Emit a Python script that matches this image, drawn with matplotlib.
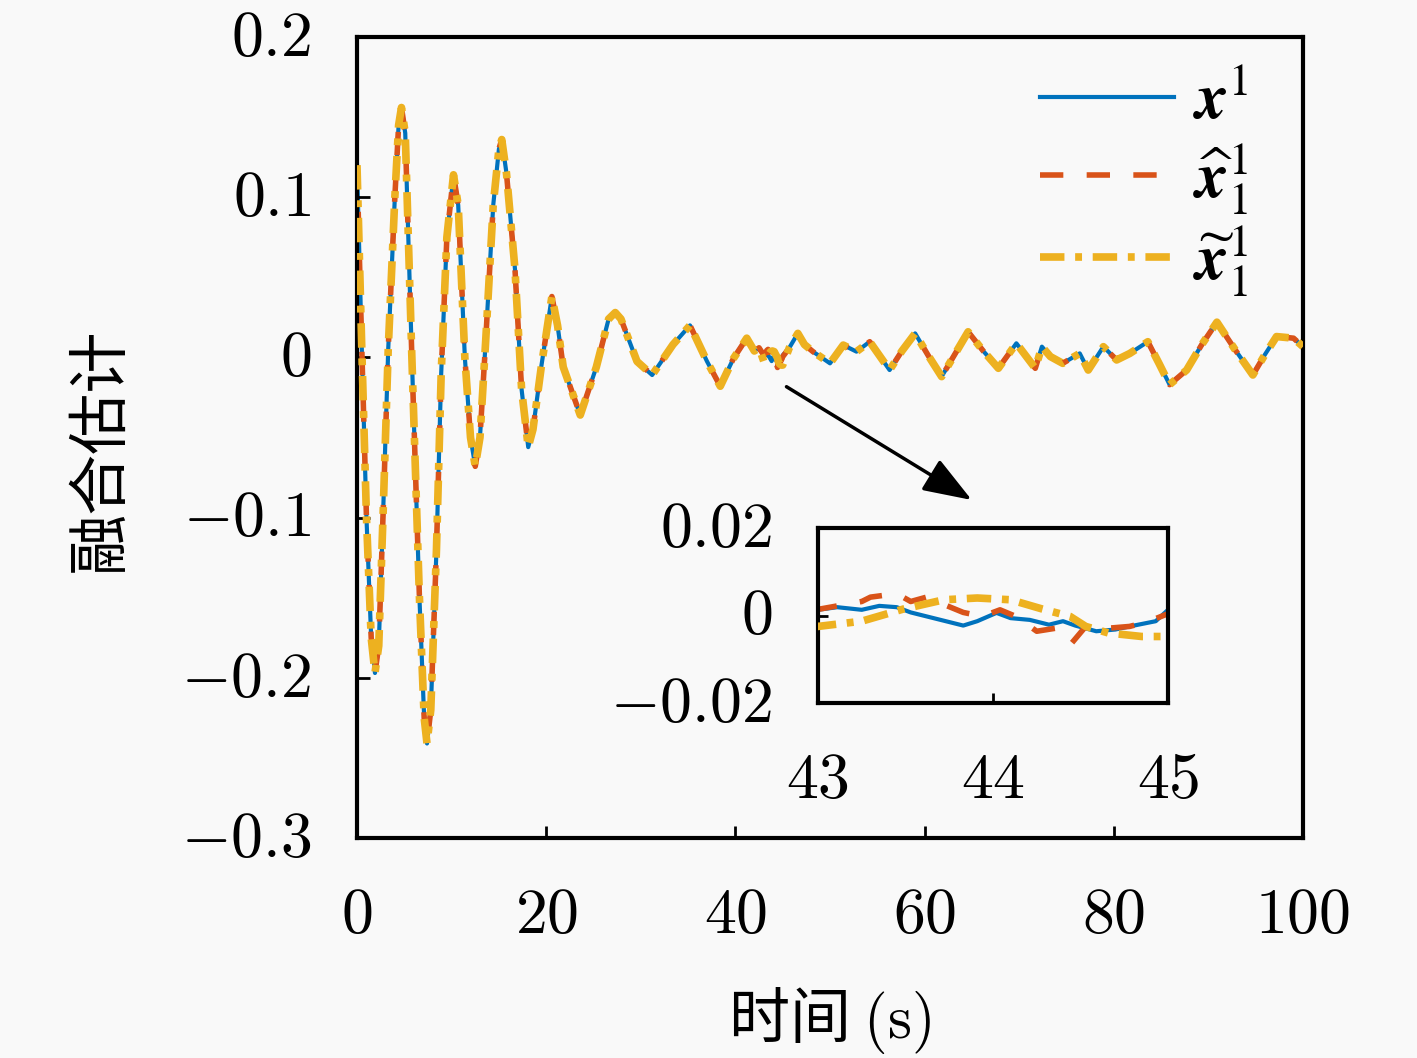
import numpy as np
import matplotlib
matplotlib.use("Agg")
import matplotlib.pyplot as plt
from matplotlib.lines import Line2D
from matplotlib.transforms import ScaledTranslation

plt.rcParams['mathtext.fontset'] = 'cm'
plt.rcParams['font.family'] = ['Noto Sans CJK SC', 'DejaVu Sans']

# shared part of the three curves (outside the zoomed window)
t_before = [0, 0.5, 1.0, 1.5, 1.9, 2.3, 2.8, 3.3, 4.0, 4.4, 4.7, 5.1, 5.8, 6.6, 7.1, 7.4, 7.8,
            8.4, 8.9, 9.5, 10.2, 10.7, 11.4, 12.0, 12.5, 13.0, 13.6, 14.4, 15.0, 15.3, 15.8,
            16.7, 17.4, 18.1, 18.6, 19.5, 20.6, 21.2, 21.8, 23.6, 25.3, 26.6, 27.3, 27.9,
            29.6, 31.2, 33.4, 35.2, 37.0, 38.4, 39.8, 41.2, 42.0, 42.5]
v_before = [0.120, 0.007, -0.100, -0.175, -0.197, -0.180, -0.090, 0.005, 0.100, 0.145, 0.156,
            0.140, 0.000, -0.150, -0.225, -0.241, -0.220, -0.120, -0.010, 0.075, 0.114, 0.095,
            0.000, -0.050, -0.068, -0.050, 0.010, 0.095, 0.130, 0.136, 0.115, 0.055, -0.020,
            -0.056, -0.045, -0.005, 0.038, 0.020, -0.006, -0.036, -0.006, 0.024, 0.028, 0.024,
            -0.0025, -0.011, 0.008, 0.020, -0.0025, -0.018, -0.0006, 0.012, 0.004, 0.006]

t_after = [45.7, 46.6, 47.3, 48.2, 50.0, 51.4, 52.8, 54.2, 56.3, 57.6, 59.0, 60.4, 61.8, 63.2,
           64.6, 66.2, 67.8, 69.7, 71.7, 72.4, 73.3, 74.6, 76.4, 77.3, 78.9, 80.3, 81.7, 83.6,
           84.8, 85.9, 87.7, 89.3, 90.9, 92.8, 94.7, 96.0, 97.2, 99.0, 100.0]
v_after = [0.006, 0.015, 0.008, 0.0036, -0.0037, 0.0077, 0.0036, 0.0098, -0.0079, 0.004, 0.015,
           0.001, -0.012, 0.002, 0.016, 0.004, -0.0068, 0.0088, -0.0068, 0.0067, 0.0005,
           -0.0037, 0.0025, -0.0079, 0.0067, -0.0016, 0.0025, 0.0098, -0.004, -0.017, -0.0079,
           0.008, 0.022, 0.005, -0.011, 0.002, 0.013, 0.012, 0.0067]

# zoomed window 43..45 s
t_x = [43.0, 43.11, 43.25, 43.35, 43.45, 43.53, 43.68, 43.83, 43.91, 44.02, 44.10, 44.21,
       44.32, 44.40, 44.47, 44.59, 44.70, 44.78, 44.93, 45.0]
v_x = [0.0013, 0.0019, 0.0013, 0.0022, 0.0019, 0.0007, -0.0008, -0.0023, -0.0013, 0.0006,
       -0.0006, -0.0010, -0.0021, -0.0013, -0.0023, -0.0036, -0.0032, -0.0025, -0.0013, 0.0013]
t_xhat = [43.0, 43.25, 43.30, 43.45, 43.53, 43.62, 43.72, 43.83, 43.94, 44.04, 44.13, 44.25,
          44.36, 44.45, 44.53, 44.66, 44.78, 44.85, 44.93, 45.0]
v_xhat = [0.0014, 0.0032, 0.0042, 0.0050, 0.0032, 0.0042, 0.0025, 0.0007, -0.0002, 0.0013,
          -0.0002, -0.0036, -0.0029, -0.0063, -0.0025, -0.0029, -0.0025, -0.0018, -0.0007, 0.0004]
t_xtil = [43.0, 43.25, 43.49, 43.72, 43.91, 44.10, 44.28, 44.44, 44.53, 44.66, 44.85, 45.0]
v_xtil = [-0.0025, -0.0013, 0.0015, 0.0036, 0.0040, 0.0036, 0.0015, -0.0002, -0.0025, -0.0040,
          -0.0048, -0.0048]

labels = [r'$\mathbfit{x}^1$', r'$\widehat{\mathbfit{x}}_1^1$', r'$\widetilde{\mathbfit{x}}_1^1$']
xticks = [0, 20, 40, 60, 80, 100]
yticks = [-0.3, -0.2, -0.1, 0, 0.1, 0.2]
inset_xticks = [43, 44, 45]
inset_yticks = [-0.02, 0, 0.02]


def fmt(v):
    return '$%g$' % v


def series(t_mid, v_mid):
    return np.array(t_before + t_mid + t_after), np.array(v_before + v_mid + v_after)


tx, vx = series(t_x, v_x)
th, vh = series(t_xhat, v_xhat)
tt, vt = series(t_xtil, v_xtil)

blue, red, yellow = '#0072BD', '#D95319', '#EDB120'
bg = '#f9f9f9'
lw_b, lw_r, lw_y = 3.0, 4.0, 5.5
dash_r = (4.2, 4.2)
dash_y = (3.2, 1.4, 0.9, 1.4)

fig = plt.figure(figsize=(14.17, 10.58), dpi=100, facecolor=bg)
ax = fig.add_axes([357/1417, 1-838/1058, 946/1417, 801/1058], facecolor=bg)
lift = ScaledTranslation(0, 7/100, fig.dpi_scale_trans)


def draw(a):
    a.plot(tx, vx, color=blue, lw=lw_b, zorder=1)
    a.plot(th, vh, color=red, lw=lw_r, dashes=dash_r, zorder=2)
    a.plot(tt, vt, color=yellow, lw=lw_y, dashes=dash_y, zorder=3)


def style(a, length):
    for s in a.spines.values():
        s.set_linewidth(3)
    a.tick_params(direction='in', length=length, width=2, labelsize=46, top=False, right=False)
    a.tick_params(axis='x', pad=31)
    a.tick_params(axis='y', pad=33)
    for lbl in a.get_yticklabels():
        lbl.set_transform(lbl.get_transform() + lift)


draw(ax)
ax.set_xlim(0, 100)
ax.set_ylim(-0.3, 0.2)
ax.set_xticks(xticks)
ax.set_xticklabels([fmt(v) for v in xticks])
ax.set_yticks(yticks)
ax.set_yticklabels([fmt(v) for v in yticks])
style(ax, 9)

fig.text(100/1417, 1-450/1058, '融合估计', rotation=90, ha='center', va='center', fontsize=44)
fig.text(830/1417, 1-1020/1058, '时间 $(\\mathrm{s})$', ha='center', va='center', fontsize=44)

# legend
handles = [Line2D([], [], color=blue, lw=lw_b),
           Line2D([], [], color=red, lw=lw_r, dashes=dash_r),
           Line2D([], [], color=yellow, lw=lw_y, dashes=dash_y)]
leg = ax.legend(handles, labels, loc='upper left', bbox_to_anchor=(1040/1417, 1-68/1058),
                bbox_transform=fig.transFigure, frameon=False, fontsize=46,
                handlelength=2.1, handletextpad=0.3, labelspacing=0.12,
                borderpad=0, borderaxespad=0)
for txt in leg.get_texts():
    txt.set_math_fontfamily('stix')

ax.annotate('', xy=(64.98, -0.089), xytext=(45.4, -0.0183),
            arrowprops=dict(arrowstyle='-|>,head_length=3.0,head_width=1.1', color='black',
                            lw=2.5, shrinkA=0, shrinkB=0))

# inset
axi = fig.add_axes([818/1417, 1-703/1058, 350/1417, 175/1058], facecolor=bg)
draw(axi)
axi.set_xlim(43, 45)
axi.set_ylim(-0.02, 0.02)
axi.set_xticks(inset_xticks)
axi.set_xticklabels([fmt(v) for v in inset_xticks])
axi.set_yticks(inset_yticks)
axi.set_yticklabels([fmt(v) for v in inset_yticks])
style(axi, 7)

fig.savefig('out.png', dpi=100, facecolor=bg)
